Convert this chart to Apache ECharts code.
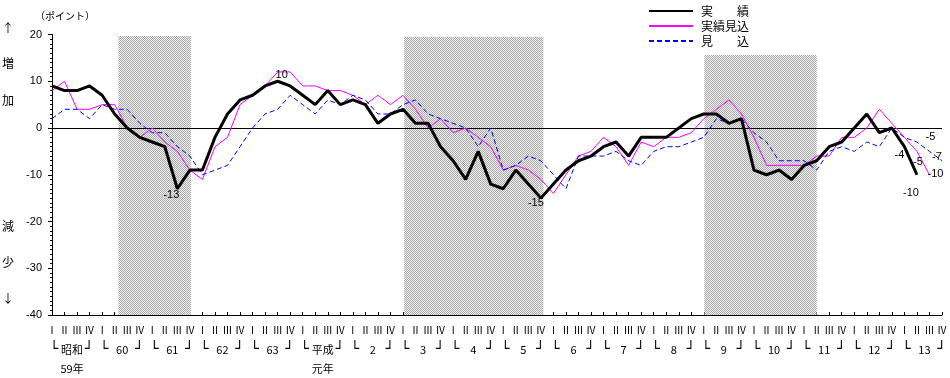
<!DOCTYPE html>
<html><head><meta charset="utf-8">
<script src="https://cdn.jsdelivr.net/npm/echarts@6/dist/echarts.min.js"></script>
<style>html,body{margin:0;padding:0;background:#fff}#c{width:950px;height:378px}</style>
</head><body><div id="c"></div>
<script>
// ---------- data ----------
const quarterLabels = ['Ⅰ','Ⅱ','Ⅲ','Ⅳ'];
const yearLabels = ['昭和','60','61','62','63','平成','2','3','4','5','6','7','8','9','10','11','12','13'];
const yearSubLabels = ['59年','','','','','元年','','','','','','','','','','','',''];
const seriesNames = ['実　　績','実績見込','見　　込'];
const jisseki = [9,8,8,9,7,3,0,-2,-3,-4, -13,-9,-9,-2,3,6,7,9,10,9, 7,5,8,5,6,5,1,3,4,1, 1,-4,-7,-11,-5,-12,-13,-9,-12,-15, -12,-9,-7,-6,-4,-3,-6,-2,-2,-2, 0,2,3,3,1,2,-9,-10,-9,-11, -8,-7,-4,-3,0,3,-1,0,-4,-10, null,null];
const jissekiMikomi = [8,10,4,4,5,5,0,-2,0,-3, -5,-9,-11,-4,-2,5,7,9,12,12, 9,9,8,8,7,5,7,5,7,4, 0,2,-1,0,-2,-4,-9,-8,-9,-11, -14,-10,-6,-5,-2,-4,-8,-3,-4,-2, -2,-1,2,4,6,3,-2,-8,-8,-8, -8,-6,-6,-2,-2,0,4,1,-2,-5, -10,null];
const mikomi = [2,4,4,2,5,4,4,1,-1,-1, -4,-6,-10,-9,-8,-4,0,3,4,7, 5,3,6,5,7,6,3,3,5,6, 3,2,1,0,-4,0,-9,-8,-6,-7, -10,-13,-6,-6,-6,-5,-7,-8,-5,-4, -4,-3,-2,2,1,2,-1,-3,-7,-7, -7,-9,-5,-4,-5,-3,-4,0,-2,-3, -5,-7];
// recession (shaded) periods, in quarter-index units, and their top value
const recessionStart = [5.3, 28.1, 52.05];
const recessionEnd = [11.1, 39.2, 61];
const recessionTop = [19.7, 19.5, 15.6];
const yMin = -40, yMax = 20, yStep = 10;
// labelled points: [series index, quarter index]
const labelledPoints = [[0,10],[0,18],[0,39],[0,68],[0,69],[1,69],[1,70],[2,70],[2,71]];

// ---------- styling ----------
const labelOffsets = {'0_10':[-6,6],'0_18':[4,-6],'0_39':[-5,5],'0_68':[-5,8],'0_69':[-6,18],'1_69':[1,11],'1_70':[6,-1],'2_70':[1,-14],'2_71':[-5,-4]};
const CJK = '"Noto Sans CJK JP"';
const NUM = '"Liberation Sans", Arial, sans-serif';

const categories = [];
yearLabels.forEach((y,k)=>quarterLabels.forEach(q=>categories.push(k+'_'+q)));
const nQ = categories.length;

const pat = document.createElement('canvas');
pat.width = 2; pat.height = 2;
const pc = pat.getContext('2d');
pc.fillStyle = '#f2f2f2'; pc.fillRect(0,0,2,2);
pc.fillStyle = '#a8a8a8'; pc.fillRect(0,0,1,1); pc.fillRect(1,1,1,1);

const yearLabelValues = [];
yearLabels.forEach((y,k)=>{ yearLabelValues.push(4*k+0.15, 4*k+1.6, 4*k+2.95); });

const allSeries = [jisseki, jissekiMikomi, mikomi];
function markPointsFor(si){
  return labelledPoints.filter(p=>p[0]===si).map(p=>({
    coord:[p[1], allSeries[si][p[1]]], value: allSeries[si][p[1]],
    label:{offset: labelOffsets[si+'_'+p[1]]}
  }));
}
const mpBase = {symbol:'circle', symbolSize:0, silent:true, itemStyle:{color:'rgba(0,0,0,0)'},
  label:{show:true, position:'inside', formatter:'{c}', color:'#000', fontSize:11, fontFamily:NUM}};

const side = [['↑',28],['増',63],['加',100],['減',226],['少',262],['↓',298]];

const option = {
  animation:false,
  backgroundColor:'#fff',
  grid:{left:52, right:7.5, top:34.5, bottom:62},
  legend:{
    orient:'vertical', left:648, top:5, padding:0, itemWidth:44, itemHeight:14, itemGap:3,
    data:seriesNames, itemStyle:{opacity:0},
    textStyle:{fontFamily:CJK, fontSize:12, color:'#000', padding:[0,0,0,3]}
  },
  graphic:[
    {type:'text', x:35, y:16, style:{text:'（ポイント）', fontSize:10, fontFamily:CJK, fill:'#000', verticalAlign:'middle'}},
    ...side.map(s=>({type:'text', x:8, y:s[1], style:{text:s[0], fontSize:12, fontFamily:CJK, fill:'#000', align:'center', verticalAlign:'middle'}}))
  ],
  xAxis:[
    {type:'category', data:categories, boundaryGap:false, position:'bottom',
     axisLine:{onZero:false, lineStyle:{color:'#000', width:1}},
     axisTick:{show:true, inside:true, length:3, interval:0, lineStyle:{color:'#000'}},
     axisLabel:{interval:0, margin:10, fontSize:10, fontFamily:CJK, color:'#000', hideOverlap:false,
       formatter:(v,i)=>quarterLabels[i%4]},
     splitLine:{show:false}},
    {type:'value', min:0, max:nQ-1, position:'bottom',
     axisLine:{show:false}, axisTick:{show:false}, splitLine:{show:false},
     axisLabel:{customValues:yearLabelValues, margin:25, fontSize:11, lineHeight:19, fontFamily:CJK, color:'#000', hideOverlap:false,
       formatter:(v)=>{ const k=Math.floor(v/4+1e-6); const r=v-4*k;
         if (r<0.5) return '{b|└}'; if (r>2.5) return '{b|┘}';
         return yearSubLabels[k] ? yearLabels[k]+'\n'+yearSubLabels[k] : yearLabels[k]; },
       rich:{b:{fontSize:14, lineHeight:19, fontFamily:'"DejaVu Sans"', color:'#000'}}}}
  ],
  yAxis:{type:'value', min:yMin, max:yMax, interval:yStep,
    axisLine:{show:true, lineStyle:{color:'#000', width:1}},
    axisTick:{show:true, length:4, lineStyle:{color:'#000'}},
    minorTick:{show:true, splitNumber:10, length:2, lineStyle:{color:'#000'}},
    splitLine:{show:false},
    axisLabel:{margin:10, fontSize:11, fontFamily:NUM, color:'#000'}},
  series:[
    {type:'line', xAxisIndex:1, yAxisIndex:0, data:[], clip:false, silent:true, symbol:'none',
     markArea:{silent:true, itemStyle:{color:{image:pat, repeat:'repeat'}},
       data: recessionStart.map((s,i)=>[{xAxis:s, yAxis:recessionTop[i]},{xAxis:recessionEnd[i], yAxis:-41.2}])},
     markLine:{silent:true, symbol:['none','none'], label:{show:false}, z:2,
       lineStyle:{color:'#000', width:1, type:'solid'}, data:[{yAxis:0}]}},
    {name:seriesNames[0], type:'line', data:jisseki, symbol:'none', z:4,
     lineStyle:{color:'#000', width:3}, itemStyle:{color:'#000'},
     markPoint:Object.assign({}, mpBase, {data:markPointsFor(0)})},
    {name:seriesNames[1], type:'line', data:jissekiMikomi, symbol:'none', z:3,
     lineStyle:{color:'#ff00ff', width:1}, itemStyle:{color:'#ff00ff'},
     markPoint:Object.assign({}, mpBase, {data:markPointsFor(1)})},
    {name:seriesNames[2], type:'line', data:mikomi, symbol:'none', z:3,
     lineStyle:{color:'#0000ff', width:1, type:[5,3]}, itemStyle:{color:'#0000ff'},
     markPoint:Object.assign({}, mpBase, {data:markPointsFor(2)})}
  ]
};
const chart = echarts.init(document.getElementById('c'));
chart.setOption(option);
</script></body></html>
